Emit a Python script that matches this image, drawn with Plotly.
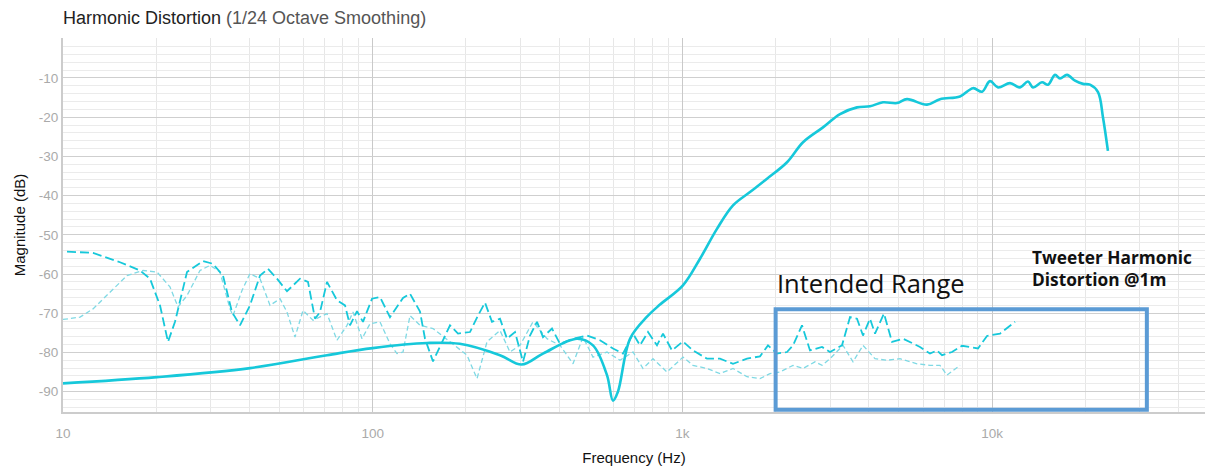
import numpy as np
import plotly.graph_objects as go

# ---------------- data ----------------
# Solid curve (Hz, dB)
solid_f = [10, 20.1, 40.2, 71.2, 100, 149.7, 191, 257.6, 302.7, 354.6, 456.7, 514.4,
           570.8, 596.9, 619.4, 677.6, 768.7, 846.7, 1004, 1140, 1293, 1457, 1653, 1876,
           2177, 2452, 2844, 3228, 3663, 4035, 4443, 4931, 5312, 6163, 6788, 7877, 8678,
           9279, 9845, 10450, 11424, 12306, 13057, 13552, 14491, 15154, 15963, 16569,
           17455, 18524, 19653, 20700, 21977, 22800, 23660]
solid_db = [-87.9, -86.3, -84.0, -80.7, -78.9, -77.6, -77.8, -80.7, -83.1, -80.3, -76.5, -78.2,
            -85.8, -92.3, -90.0, -76.5, -70.9, -67.8, -62.9, -56.1, -48.5, -42.5, -39.1, -35.7,
            -31.5, -26.4, -22.6, -19.2, -17.5, -17.2, -16.2, -16.4, -15.4, -16.8, -15.4, -14.7, -12.6,
            -13.5, -10.8, -12.4, -11.3, -12.4, -10.9, -12.4, -11.1, -11.7, -9.2, -10.1,
            -9.2, -10.7, -11.5, -11.7, -13.6, -20.0, -28.6]

# Heavy dashed curve (read as pixel columns of the reference, converted below)
dash1_px = [67, 93, 120, 140, 150, 160, 168, 175, 187, 203, 213, 223, 232, 240, 250, 260, 268,
            277, 287, 300, 308, 315, 320, 327, 337, 345, 350, 357, 363, 372, 380, 390, 403,
            410, 420, 425, 433, 442, 450, 458, 470, 478, 485, 492, 500, 507, 515, 523, 530,
            537, 543, 552, 560, 573, 587, 600, 613, 623, 633, 640, 648, 657, 663, 672, 683,
            693, 707, 720, 733, 747, 760, 768, 777, 787, 793, 802, 810, 822, 830, 842, 850,
            857, 863, 870, 875, 884, 892, 903, 913, 920, 930, 937, 942, 952, 962, 970, 978,
            987, 1000, 1015]
dash1_db = [-54.3, -54.6, -57.0, -59.1, -61.2, -68.0, -77.3, -72.2, -59.5, -56.7, -57.4, -60.4,
            -69.7, -73.1, -68.0, -60.4, -58.7, -61.2, -64.4, -61.2, -62.0, -71.4, -69.7, -62.0,
            -66.7, -68.0, -73.1, -69.5, -72.2, -66.3, -65.9, -71.0, -66.1, -65.0, -69.6, -76.5,
            -82.3, -77.3, -73.1, -75.2, -74.8, -70.6, -67.3, -72.2, -71.4, -76.5, -74.8, -82.4,
            -75.7, -72.2, -76.1, -73.9, -77.8, -76.5, -75.7, -76.9, -79.0, -80.3, -75.2, -78.2,
            -74.8, -78.2, -75.2, -79.5, -77.2, -79.5, -81.6, -81.6, -82.9, -81.6, -81.0, -78.2,
            -80.3, -79.9, -78.2, -73.1, -79.5, -78.6, -79.9, -78.2, -71.0, -71.4, -75.7, -71.4,
            -75.2, -70.1, -77.3, -76.5, -77.8, -78.6, -80.3, -79.5, -80.7, -79.9, -78.3, -78.6,
            -79.0, -75.8, -75.2, -72.2]

# Light dashed curve
dash2_px = [63, 80, 93, 110, 127, 143, 157, 170, 178, 187, 200, 210, 220, 230, 233, 242, 250,
            260, 270, 280, 287, 295, 303, 313, 327, 337, 347, 353, 362, 370, 380, 390, 397,
            403, 410, 420, 433, 450, 467, 477, 487, 500, 510, 520, 533, 547, 560, 573, 583,
            593, 607, 620, 633, 643, 653, 667, 683, 693, 707, 720, 733, 747, 760, 770, 780,
            793, 803, 815, 822, 830, 843, 853, 863, 875, 887, 900, 917, 930, 940, 947, 960]
dash2_db = [-71.6, -71.0, -68.9, -64.6, -60.4, -59.1, -59.5, -63.3, -68.4, -65.5, -59.1, -57.8,
            -59.5, -68.9, -70.6, -64.2, -59.9, -61.2, -68.0, -66.3, -69.7, -76.1, -69.3, -71.8,
            -70.1, -76.9, -73.1, -69.7, -76.5, -72.7, -72.2, -77.8, -80.3, -79.9, -70.6, -73.1,
            -73.9, -77.3, -80.7, -86.7, -77.3, -74.4, -79.9, -78.2, -72.2, -76.5, -78.2, -82.9,
            -76.1, -81.2, -79.9, -82.0, -79.9, -84.1, -81.6, -85.0, -81.2, -83.3, -84.1, -85.4,
            -84.1, -86.2, -86.7, -85.4, -85.0, -83.3, -84.1, -82.4, -83.3, -81.6, -78.2, -82.4,
            -78.2, -81.6, -82.0, -81.6, -82.9, -83.3, -83.3, -85.8, -83.3]

# pixel readings of dashed curves -> frequency via the reference's decade scale
PX0, PX_PER_DECADE = 63, 309.7
dash1_f = [10 ** (1 + (p - PX0) / PX_PER_DECADE) for p in dash1_px]
dash2_f = [10 ** (1 + (p - PX0) / PX_PER_DECADE) for p in dash2_px]

x_tickvals = [10, 100, 1000, 10000]
x_ticktext = ["10", "100", "1k", "10k"]
x_minor = [m * d for d in (10, 100, 1000, 10000) for m in range(2, 10)]
y_tickvals = [-90, -80, -70, -60, -50, -40, -30, -20, -10, 0]
y_ticktext = ["-90", "-80", "-70", "-60", "-50", "-40", "-30", "-20", "-10", ""]

range_f = (2000, 31600)
range_db = (-94.6, -69.0)

CYAN = "#16c8da"
CYAN_LIGHT = "#7fd9e4"

X_RANGE = [1, 1 + (1205 - 63) / PX_PER_DECADE]


def xfrac(f):
    return (np.log10(f) - X_RANGE[0]) / (X_RANGE[1] - X_RANGE[0])


fig = go.Figure()
fig.add_trace(go.Scatter(x=dash2_f, y=dash2_db, mode="lines",
                         line=dict(color=CYAN_LIGHT, width=1.3, dash="5px,3px"),
                         showlegend=False, hoverinfo="skip"))
fig.add_trace(go.Scatter(x=dash1_f, y=dash1_db, mode="lines",
                         line=dict(color=CYAN, width=1.8, dash="9px,4px"),
                         showlegend=False, hoverinfo="skip"))
fig.add_trace(go.Scatter(x=solid_f, y=solid_db, mode="lines", line_shape="spline",
                         line=dict(color=CYAN, width=2.6),
                         showlegend=False, hoverinfo="skip"))

fig.add_shape(type="rect", xref="paper", yref="y",
              x0=xfrac(range_f[0]), x1=xfrac(range_f[1]),
              y0=range_db[0], y1=range_db[1],
              line=dict(color="#5b9bd5", width=4), fillcolor="rgba(0,0,0,0)")

fig.add_annotation(text="Intended Range", xref="paper", yref="y",
                   x=xfrac(1990), y=-62.3, xanchor="left", yanchor="middle",
                   showarrow=False, font=dict(family="Open Sans", size=25.5, color="#111"))
fig.add_annotation(text="<b>Tweeter Harmonic</b><br><b>Distortion @1m</b>", xref="paper", yref="y",
                   x=xfrac(13300), y=-58.6, xanchor="left", yanchor="middle", align="left",
                   showarrow=False, font=dict(family="Open Sans", size=17.3, color="#111"))

fig.update_layout(
    width=1205, height=470,
    margin=dict(l=63, r=0, t=38, b=58),
    paper_bgcolor="white", plot_bgcolor="white",
    font=dict(family="Liberation Sans, Arial, sans-serif"),
    title=dict(text="Harmonic Distortion <span style='color:#555'>(1/24 Octave Smoothing)</span>",
               x=63 / 1205, xanchor="left", y=1 - 18 / 470, yanchor="middle",
               font=dict(size=18, color="#222")),
    xaxis=dict(type="log", range=X_RANGE,
               tickvals=x_tickvals, ticktext=x_ticktext,
               tickfont=dict(size=13.5, color="#aaaaaa"), ticklabelstandoff=8,
               showgrid=True, gridcolor="#c9c9c9", gridwidth=1,
               minor=dict(tickvals=x_minor, showgrid=True, gridcolor="#e7e7e7", gridwidth=1),
               showline=True, linecolor="#cccccc", linewidth=2, zeroline=False,
               title=dict(text="Frequency (Hz)", font=dict(size=15, color="#111"), standoff=12)),
    yaxis=dict(range=[-95.2, 0.2], tickvals=y_tickvals, ticktext=y_ticktext,
               tickfont=dict(size=13.5, color="#aaaaaa"),
               showgrid=True, gridcolor="#cfcfcf", gridwidth=1,
               minor=dict(dtick=2, tick0=0, showgrid=True, gridcolor="#ebebeb", gridwidth=1),
               showline=True, linecolor="#cccccc", linewidth=2, zeroline=False,
               title=dict(text="Magnitude (dB)", font=dict(size=15, color="#111"), standoff=10)),
)

fig.write_html("out.html", config={"displayModeBar": False},
               post_script="document.body.style.margin='0px';")
